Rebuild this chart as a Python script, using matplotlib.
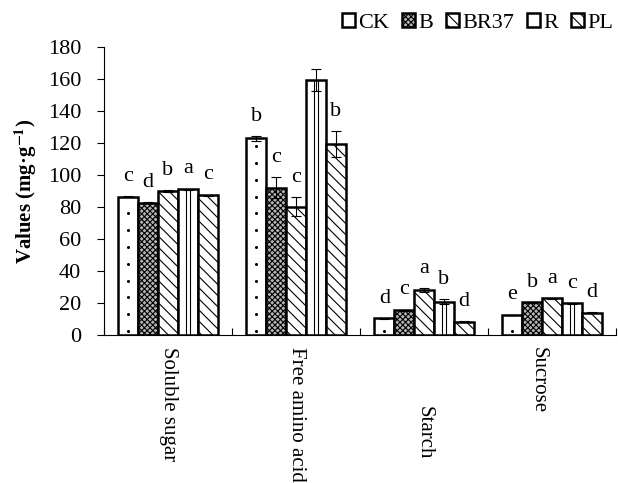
import matplotlib.pyplot as plt
import matplotlib.transforms as mtransforms
import numpy as np

plt.rcParams['font.family'] = ['Liberation Serif', 'DejaVu Serif']
plt.rcParams['mathtext.fontset'] = 'stix'
plt.rcParams['hatch.linewidth'] = 0.8

categories = ['Soluble sugar', 'Free amino acid', 'Starch', 'Sucrose']
treatments = ['CK', 'B', 'BR37', 'R', 'PL']

values = {
    'CK':   [86.5, 123.0, 10.4, 12.5],
    'B':    [82.7, 92.0, 15.6, 20.4],
    'BR37': [90.0, 80.2, 28.1, 22.9],
    'R':    [91.0, 159.4, 20.8, 19.8],
    'PL':   [87.3, 119.2, 8.3, 14.0],
}
errors = {
    'CK':   [0.5, 1.5, 0.3, 0.3],
    'B':    [0.5, 6.5, 0.3, 0.3],
    'BR37': [0.5, 6.0, 1.0, 0.3],
    'R':    [0.5, 7.0, 1.5, 0.3],
    'PL':   [0.5, 8.0, 0.3, 0.3],
}
letters = {
    'CK':   ['c', 'b', 'd', 'e'],
    'B':    ['d', 'c', 'c', 'b'],
    'BR37': ['b', 'c', 'a', 'a'],
    'R':    ['a', '', 'b', 'c'],
    'PL':   ['c', 'b', 'd', 'd'],
}

styles = {
    'CK':   dict(facecolor='white', hatch=None),
    'B':    dict(facecolor='#b5b5b5', hatch='xxxxxx'),
    'BR37': dict(facecolor='white', hatch='\\\\\\'),
    'R':    dict(facecolor='white', hatch=None),
    'PL':   dict(facecolor='white', hatch='\\\\\\'),
}

fs = 16

fig = plt.figure(figsize=(6.18, 4.83), dpi=100)
ax = fig.add_axes([0.1683, 0.3064, 0.9968 - 0.1683, 0.9027 - 0.3064])

x = np.arange(len(categories))
width = 0.155

for i, t in enumerate(treatments):
    pos = x + (i - 2) * width
    ax.bar(pos, values[t], width, edgecolor='black', linewidth=1.8,
           label=t, zorder=2, **styles[t])
    if t == 'CK':
        # sparse dot pattern, one column
        for p, v in zip(pos, values[t]):
            ys = np.arange(2.5, v - 3, 10.5)
            ax.plot(np.full_like(ys, p), ys, 'o', color='black', ms=2.2,
                    mew=0, zorder=3)
    if t == 'R':
        # vertical stripe pattern
        off = width * 0.085
        ax.vlines(pos - off, 0, values[t], color='black', linewidth=0.8, zorder=3)
        ax.vlines(pos + off, 0, values[t], color='black', linewidth=0.8, zorder=3)
    ax.errorbar(pos, values[t], yerr=errors[t], fmt='none', ecolor='black',
                elinewidth=0.8, capsize=3.6, capthick=0.8, zorder=4)
    for j in range(len(categories)):
        if letters[t][j]:
            ax.text(pos[j], values[t][j] + errors[t][j] + 9.5, letters[t][j],
                    ha='center', va='baseline', fontsize=fs)

ax.set_xlim(-0.5, len(categories) - 0.5)
ax.set_ylim(0, 180)
ax.set_yticks(np.arange(0, 181, 20))
ax.tick_params(axis='y', direction='out', length=5, width=0.8, pad=11.5,
               labelsize=fs)

ax.set_xticks(np.arange(-0.5, len(categories), 1.0))
ax.set_xticklabels([])
ax.tick_params(axis='x', which='major', direction='in', length=5, width=0.8)
ax.set_xticks(x, minor=True)
ax.set_xticklabels(categories, minor=True, rotation=-90, va='top', ha='center',
                   fontsize=15)
ax.tick_params(axis='x', which='minor', length=0, pad=8.5)

# label shifts as in the original
shifts = {'Starch': (0, -59), 'Sucrose': (-14, 0)}
for lab in ax.get_xticklabels(minor=True):
    s = shifts.get(lab.get_text())
    if s:
        lab.set_transform(lab.get_transform() +
                          mtransforms.ScaledTranslation(s[0] / 100, s[1] / 100,
                                                        fig.dpi_scale_trans))

for side in ['top', 'right']:
    ax.spines[side].set_visible(False)
ax.spines['left'].set_linewidth(0.8)
ax.spines['bottom'].set_linewidth(0.8)

ax.set_ylabel('Values (mg·g$^{\\mathbf{-1}}$)', fontsize=15, fontweight='bold')
ax.yaxis.set_label_coords(-0.127, 0.5)

fig.legend(loc='upper right', bbox_to_anchor=(613 / 618, 1 - 13 / 483), ncol=5,
           frameon=False, handlelength=0.56, handleheight=0.56, handletextpad=0.15,
           columnspacing=0.6, fontsize=fs, borderaxespad=0, borderpad=0)

fig.savefig('out.png', dpi=100)
